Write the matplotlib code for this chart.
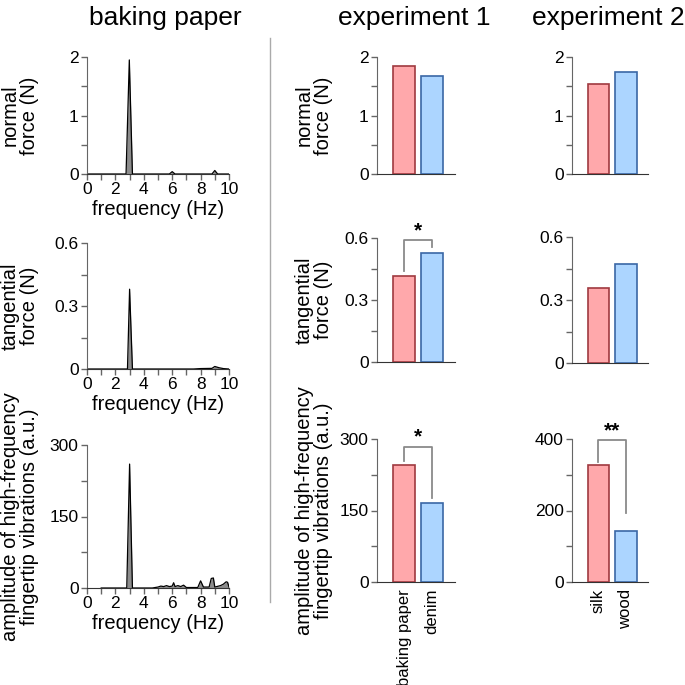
import numpy as np
import matplotlib.pyplot as plt
from matplotlib.ticker import MultipleLocator

plt.rcParams['font.family'] = ['Liberation Sans', 'DejaVu Sans']

# spectra of the baking paper trial (frequency in Hz)
freq_normal = [0, 2.75, 2.98, 3.2, 5.8, 6.0, 6.2, 8.8, 9.0, 9.2, 10]
amp_normal = [0, 0, 1.95, 0, 0, 0.04, 0, 0, 0.06, 0, 0]

freq_tangential = [0, 2.85, 3.0, 3.2, 7.5, 8.0, 8.8, 9.0, 9.3, 9.6, 10]
amp_tangential = [0, 0, 0.38, 0, 0, 0.002, 0.003, 0.012, 0.006, 0.002, 0]

freq_vibration = [1.0, 2.8, 3.0, 3.2, 4.6, 5.0, 5.2, 5.4, 5.6, 5.8, 6.0, 6.1, 6.2,
                  6.4, 6.6, 6.8, 7.0, 7.8, 8.0, 8.2, 8.6, 8.75, 8.9, 9.0, 9.4,
                  9.6, 9.8, 9.9, 10.0]
amp_vibration = [0, 0, 260, 0, 0, 2, 4, 3, 5, 3, 4, 11, 3,
                 5, 3, 6, 1, 1, 15, 2, 2, 20, 21, 2, 5,
                 8, 13, 12, 2]

# mean values per condition
conditions_exp1 = ["baking paper", "denim"]
normal_exp1 = [1.85, 1.675]
tangential_exp1 = [0.415, 0.527]
vibration_exp1 = [246, 166]

conditions_exp2 = ["silk", "wood"]
normal_exp2 = [1.535, 1.75]
tangential_exp2 = [0.356, 0.471]
vibration_exp2 = [327, 143]

PINK, PINK_EDGE = "#ffa8ab", "#a0393f"
BLUE, BLUE_EDGE = "#acd5ff", "#3a67a6"
W = H = 685
LABEL_FS = 14.5
TICK_FS = 12.5


def add_ax(fig, left, top, right, bottom):
    return fig.add_axes([left / W, 1 - bottom / H, (right - left) / W, (bottom - top) / H])


def style(ax):
    for s in ("top", "right"):
        ax.spines[s].set_visible(False)
    ax.spines["left"].set_color("#666666")
    ax.spines["bottom"].set_color("#333333")
    ax.tick_params(which="both", direction="out", length=4, width=1,
                   color="#666666", labelsize=TICK_FS, pad=2)


fig = plt.figure(figsize=(6.85, 6.85), dpi=100)

# ---- left column: spectra
rows_left = [(57, 174), (243, 369), (445, 588)]
spectra = [(freq_normal, amp_normal, 2, 1, 0.5),
           (freq_tangential, amp_tangential, 0.6, 0.3, 0.15),
           (freq_vibration, amp_vibration, 300, 150, 75)]
for (top, bot), (f, a, ymax, major, minor) in zip(rows_left, spectra):
    ax = add_ax(fig, 87, top, 229, bot)
    style(ax)
    ax.fill_between(f, a, color="#8c8c8c", lw=0)
    ax.plot(f, a, color="black", lw=0.9)
    ax.set_xlim(0, 10)
    ax.set_ylim(0, ymax)
    ax.xaxis.set_major_locator(MultipleLocator(2))
    ax.xaxis.set_minor_locator(MultipleLocator(1))
    ax.yaxis.set_major_locator(MultipleLocator(major))
    ax.yaxis.set_minor_locator(MultipleLocator(minor))
    ax.yaxis.set_major_formatter(lambda v, p: f"{v:g}")
    ax.set_xlabel("frequency (Hz)", fontsize=LABEL_FS, labelpad=2)

# ---- bar columns
rows_mid = [(57, 174), (238, 362), (439, 582)]
rows_right = [(57, 174), (237, 363), (439, 582)]
exp1 = [normal_exp1, tangential_exp1, vibration_exp1]
exp2 = [normal_exp2, tangential_exp2, vibration_exp2]
lims1 = [(2, 1, 0.5), (0.6, 0.3, 0.15), (300, 150, 75)]
lims2 = [(2, 1, 0.5), (0.6, 0.3, 0.15), (400, 200, 100)]
bar_axes = {}
for col, (x0, x1, rows, data, lims, conds) in enumerate([
        (377, 455, rows_mid, exp1, lims1, conditions_exp1),
        (572, 648, rows_right, exp2, lims2, conditions_exp2)]):
    for r, ((top, bot), vals, (ymax, major, minor)) in enumerate(zip(rows, data, lims)):
        ax = add_ax(fig, x0, top, x1, bot)
        style(ax)
        ax.bar([0, 1], vals, width=0.8, color=[PINK, BLUE],
               edgecolor=[PINK_EDGE, BLUE_EDGE], linewidth=1.2, zorder=3)
        ax.set_xlim(-0.97, 1.82)
        ax.set_ylim(0, ymax)
        ax.yaxis.set_major_locator(MultipleLocator(major))
        ax.yaxis.set_minor_locator(MultipleLocator(minor))
        ax.yaxis.set_major_formatter(lambda v, p: f"{v:g}")
        ax.set_xticks([0, 1])
        ax.tick_params(axis="x", length=0, pad=5)
        if r == 2:
            ax.set_xticklabels(conds, rotation=90, fontsize=12)
        else:
            ax.set_xticklabels([])
        bar_axes[(col, r)] = ax


def bracket(ax, y_left, y_top, y_right, label):
    ax.plot([0, 0, 1, 1], [y_left, y_top, y_top, y_right], color="#8a8a8a",
            lw=1.3, clip_on=False, zorder=4)
    ax.text(0.5, y_top, label, ha="center", va="bottom", fontsize=15,
            fontweight="bold")


bracket(bar_axes[(0, 1)], 0.438, 0.59, 0.557, "*")
bracket(bar_axes[(0, 2)], 253, 284, 177, "*")
bracket(bar_axes[(1, 2)], 337, 397, 193, "**")

# ---- y labels
labels = ["normal\nforce (N)", "tangential\nforce (N)",
          "amplitude of high-frequency\nfingertip vibrations (a.u.)"]
for lab, (t, b), (tm, bm) in zip(labels, rows_left, rows_mid):
    fig.text(20 / W, 1 - (t + b) / 2 / H, lab, rotation=90, ha="center",
             va="center", fontsize=LABEL_FS, linespacing=1.0)
    fig.text(314 / W, 1 - (tm + bm) / 2 / H, lab, rotation=90, ha="center",
             va="center", fontsize=LABEL_FS, linespacing=1.0)

# ---- titles and separator
for txt, xc in [("baking paper", 165), ("experiment 1", 414), ("experiment 2", 608)]:
    fig.text(xc / W, 1 - 18 / H, txt, ha="center", va="center", fontsize=19)
fig.add_artist(plt.Line2D([270 / W, 270 / W], [1 - 38 / H, 1 - 602 / H],
                          color="#aaaaaa", lw=1))

fig.savefig("out.png", dpi=100)
